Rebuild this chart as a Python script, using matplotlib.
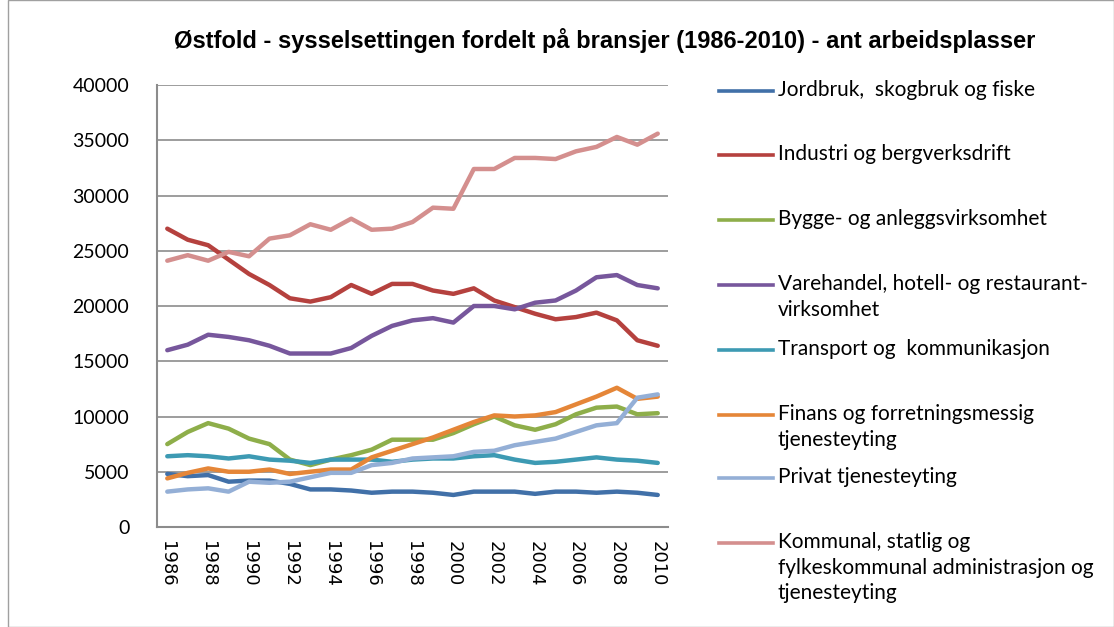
import matplotlib.pyplot as plt
from matplotlib.lines import Line2D
from matplotlib.patches import Rectangle

# Østfold - sysselsetting per bransje, verdier lest av originalgrafen
years = list(range(1986, 2011))

jordbruk = [4800, 4600, 4700, 4100, 4200, 4200, 3900, 3400, 3400, 3300, 3100, 3200, 3200,
            3100, 2900, 3200, 3200, 3200, 3000, 3200, 3200, 3100, 3200, 3100, 2900]
industri = [27000, 26000, 25500, 24200, 22900, 21900, 20700, 20400, 20800, 21900, 21100, 22000, 22000,
            21400, 21100, 21600, 20500, 19900, 19300, 18800, 19000, 19400, 18700, 16900, 16400]
bygge = [7500, 8600, 9400, 8900, 8000, 7500, 6100, 5600, 6100, 6500, 7000, 7900, 7900,
         7900, 8500, 9300, 10000, 9200, 8800, 9300, 10200, 10800, 10900, 10200, 10300]
varehandel = [16000, 16500, 17400, 17200, 16900, 16400, 15700, 15700, 15700, 16200, 17300, 18200, 18700,
              18900, 18500, 20000, 20000, 19700, 20300, 20500, 21400, 22600, 22800, 21900, 21600]
transport = [6400, 6500, 6400, 6200, 6400, 6100, 6000, 5800, 6100, 6100, 6100, 5900, 6100,
             6200, 6200, 6400, 6500, 6100, 5800, 5900, 6100, 6300, 6100, 6000, 5800]
finans = [4400, 4900, 5300, 5000, 5000, 5200, 4800, 5000, 5200, 5200, 6300, 6900, 7500,
          8100, 8800, 9500, 10100, 10000, 10100, 10400, 11100, 11800, 12600, 11600, 11800]
privat = [3200, 3400, 3500, 3200, 4100, 4000, 4100, 4500, 4900, 4900, 5600, 5800, 6200,
          6300, 6400, 6800, 6900, 7400, 7700, 8000, 8600, 9200, 9400, 11700, 12000]
kommunal = [24100, 24600, 24100, 24900, 24500, 26100, 26400, 27400, 26900, 27900, 26900, 27000, 27600,
            28900, 28800, 32400, 32400, 33400, 33400, 33300, 34000, 34400, 35300, 34600, 35600]

series = [jordbruk, industri, bygge, varehandel, transport, finans, privat, kommunal]
labels = ["Jordbruk,  skogbruk og fiske",
          "Industri og bergverksdrift",
          "Bygge- og anleggsvirksomhet",
          "Varehandel, hotell- og restaurant-\nvirksomhet",
          "Transport og  kommunikasjon",
          "Finans og forretningsmessig\ntjenesteyting",
          "Privat tjenesteyting",
          "Kommunal, statlig og\nfylkeskommunal administrasjon og\ntjenesteyting"]
colors = ["#4170A8", "#B5413E", "#8EAE4A", "#77579C", "#3D9AB3", "#E58638", "#94AFD6", "#D48F8E"]

fig = plt.figure(figsize=(11.14, 6.27), dpi=100)
ax = fig.add_axes([0.141, 0.1595, 0.4586, 0.7049])

x = list(range(len(years)))
for vals, col in zip(series, colors):
    ax.plot(x, vals, color=col, lw=3.2, solid_capstyle="round", solid_joinstyle="round")

ax.set_xlim(-0.5, len(years) - 0.5)
ax.set_ylim(0, 40000)
ax.set_yticks(range(0, 40001, 5000))
ax.set_yticklabels([str(v) for v in range(0, 40001, 5000)], fontsize=14, family="Lato")
ax.set_xticks(x[::2])
ax.set_xticklabels([str(y) for y in years[::2]], rotation=-90, fontsize=13, family="DejaVu Sans")
ax.tick_params(axis="y", length=0, pad=20)
ax.tick_params(axis="x", length=0, pad=10)
ax.grid(axis="y", color="#8c8c8c", lw=1.2)
ax.set_axisbelow(True)
for s in ["top", "right"]:
    ax.spines[s].set_visible(False)
for s in ["left", "bottom"]:
    ax.spines[s].set_color("#8c8c8c")
    ax.spines[s].set_linewidth(1.5)

fig.text(0.543, 0.936, "Østfold - sysselsettingen fordelt på bransjer (1986-2010) - ant arbeidsplasser",
         ha="center", va="center", fontsize=17, fontweight="bold", family="Liberation Sans")

# egen legende til høyre
W, H = 1114, 627
legend_y = [91, 155, 220, 285, 350, 415, 478, 543]
for yy, col, lab in zip(legend_y, colors, labels):
    fy = 1 - yy / H
    fig.add_artist(Line2D([719 / W, 773 / W], [fy, fy], color=col, lw=2.6))
    fig.text(778 / W, 1 - (yy - 11) / H, lab, ha="left", va="top", fontsize=15,
             family="Lato", linespacing=1.35)

fig.add_artist(Rectangle((8 / W, 0), 1 - 8 / W, 1, fill=False, ec="#a0a0a0", lw=1,
                         transform=fig.transFigure))

fig.savefig("out.png", dpi=100)
